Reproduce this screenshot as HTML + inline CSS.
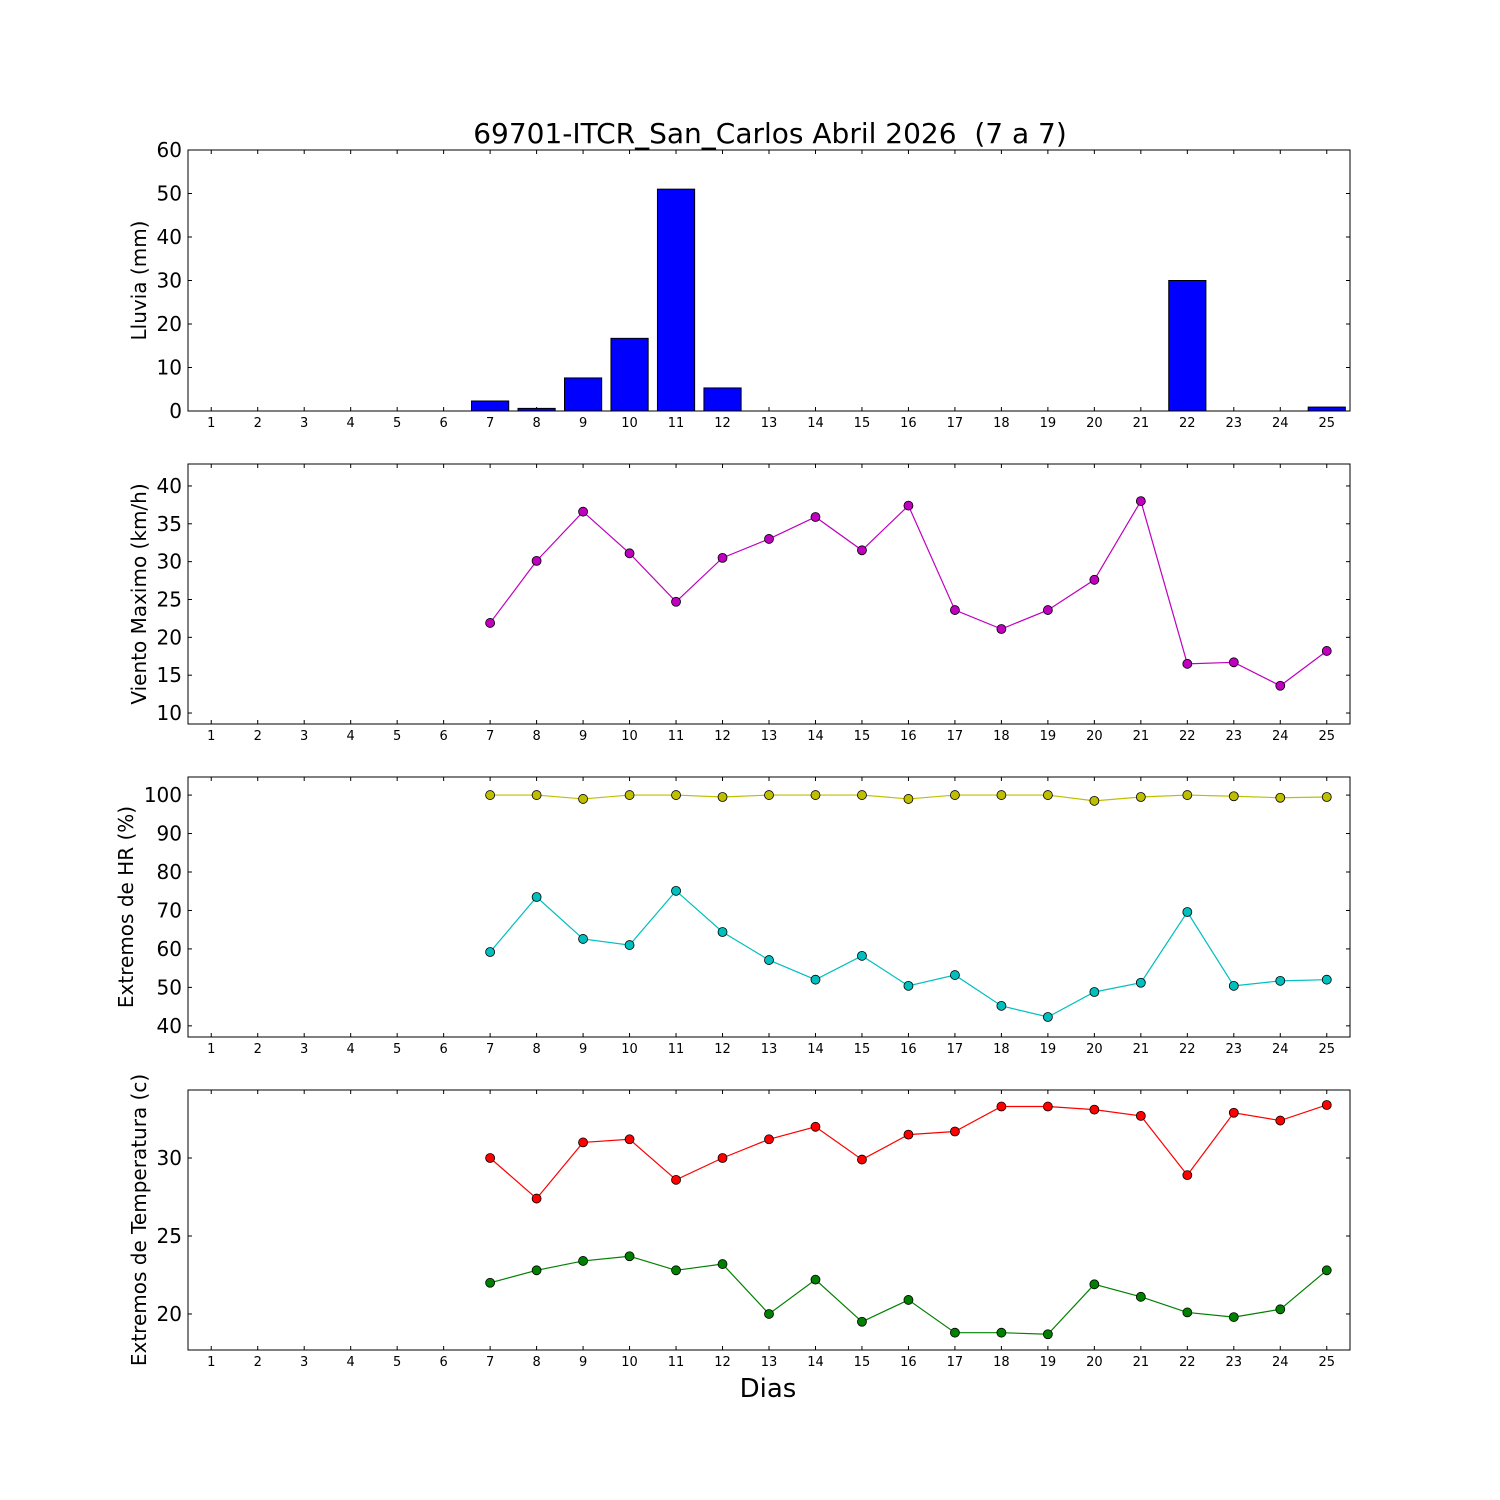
<!DOCTYPE html>
<html><head><meta charset="utf-8"><style>
html,body{margin:0;padding:0;background:#fff}
svg{display:block;font-family:"DejaVu Sans","Liberation Sans",sans-serif}
</style></head><body>
<svg id="chart" width="1500" height="1500" viewBox="0 0 1500 1500">
<rect x="0" y="0" width="1500" height="1500" fill="#fff"/>
<text x="770" y="143" font-size="28" text-anchor="middle">69701-ITCR_San_Carlos Abril 2026 &#160;(7 a 7)</text>
<text x="768" y="1397" font-size="26" text-anchor="middle">Dias</text>
</svg>
<script>
const days = [1,2,3,4,5,6,7,8,9,10,11,12,13,14,15,16,17,18,19,20,21,22,23,24,25];
const rain = [0,0,0,0,0,0,2.3,0.6,7.6,16.7,51,5.3,0,0,0,0,0,0,0,0,0,30,0,0,0.9];
const windDays = [7,8,9,10,11,12,13,14,15,16,17,18,19,20,21,22,23,24,25];
const wind = [21.9,30.1,36.6,31.1,24.7,30.5,33.0,35.9,31.5,37.4,23.6,21.1,23.6,27.6,38.0,16.5,16.7,13.6,18.2];
const hrMax = [100,100,99,100,100,99.5,100,100,100,99,100,100,100,98.5,99.5,100,99.7,99.3,99.5];
const hrMin = [59.2,73.5,62.6,61.0,75.1,64.4,57.1,52.0,58.2,50.4,53.2,45.2,42.3,48.8,51.2,69.6,50.4,51.7,52.0];
const tMax = [30,27.4,31.0,31.2,28.6,30,31.2,32.0,29.9,31.5,31.7,33.3,33.3,33.1,32.7,28.9,32.9,32.4,33.4];
const tMin = [22.0,22.8,23.4,23.7,22.8,23.2,20.0,22.2,19.5,20.9,18.8,18.8,18.7,21.9,21.1,20.1,19.8,20.3,22.8];
const rainTicks = [0,10,20,30,40,50,60];
const windTicks = [10,15,20,25,30,35,40];
const hrTicks = [40,50,60,70,80,90,100];
const tTicks = [20,25,30];

const NS="http://www.w3.org/2000/svg";
const svg=document.getElementById('chart');
function el(tag,attrs,parent){const e=document.createElementNS(NS,tag);for(const k in attrs)e.setAttribute(k,attrs[k]);(parent||svg).appendChild(e);return e;}
const L=188,R=1350;
function xs(d){return L+(d-0.5)*(R-L)/25;}

function panel(name,top,bot,ymin,ymax,ticks,label,lx){
  const g=el('g',{});
  
  
  const ys=v=>bot-(v-ymin)*(bot-top)/(ymax-ymin);
  ticks.forEach(t=>{
    const y=ys(t);
    el('line',{x1:L,x2:L+4,y1:y,y2:y,stroke:'#000'},g);
    el('line',{x1:R-4,x2:R,y1:y,y2:y,stroke:'#000'},g);
    const tx=el('text',{x:L-6,y:y+7,'font-size':20,'text-anchor':'end'},g);
    
    
    tx.textContent=t;
  });
  days.forEach(d=>{
    const x=xs(d);
    el('line',{x1:x,x2:x,y1:bot,y2:bot-4,stroke:'#000'},g);
    el('line',{x1:x,x2:x,y1:top,y2:top+4,stroke:'#000'},g);
    const tx=el('text',{x:x,y:bot+16,'font-size':13,'text-anchor':'middle'},g);
    
    
    tx.textContent=d;
  });
  const yl=el('text',{x:0,y:0,'font-size':20,'text-anchor':'middle',transform:`translate(${lx},${(top+bot)/2}) rotate(-90)`},g);
  
  
  yl.textContent=label;
  return {g,ys,top,bot};
}
function frame(p){el('rect',{x:L,y:p.top,width:R-L,height:p.bot-p.top,fill:'none',stroke:'#000','stroke-width':1},p.g);}
function series(p,name,xsArr,vals,color){
  const pts=vals.map((v,i)=>xs(xsArr[i])+','+p.ys(v)).join(' ');
  const pl=el('polyline',{points:pts,fill:'none',stroke:color,'stroke-width':1.2},p.g);
  
  
  vals.forEach((v,i)=>{
    const c=el('circle',{cx:xs(xsArr[i]),cy:p.ys(v),r:4.5,fill:color,stroke:'#000','stroke-width':0.8},p.g);
    
    
  });
}

const p1=panel('rain',150,411,0,60,rainTicks,'Lluvia (mm)',146);
rain.forEach((v,i)=>{
  const x=xs(days[i]);const w=0.8*(R-L)/25;
  const b=el('rect',{x:x-w/2,y:p1.ys(v),width:w,height:p1.ys(0)-p1.ys(v),fill:'#0000ff',stroke:'#000','stroke-width':1},p1.g);
  
  
});
frame(p1);

const p2=panel('wind',464,724,8.55,42.9,windTicks,'Viento Maximo (km/h)',146);
series(p2,'wind',windDays,wind,'#bf00bf');frame(p2);

const p3=panel('humidity',777,1037,37.1,104.7,hrTicks,'Extremos de HR (%)',133);
series(p3,'hr-max',windDays,hrMax,'#bfbf00');
series(p3,'hr-min',windDays,hrMin,'#00bfbf');frame(p3);

const p4=panel('temperature',1090,1350,17.69,34.36,tTicks,'Extremos de Temperatura (c)',146);
series(p4,'temp-max',windDays,tMax,'#ff0000');
series(p4,'temp-min',windDays,tMin,'#008000');frame(p4);
</script>
</body></html>
